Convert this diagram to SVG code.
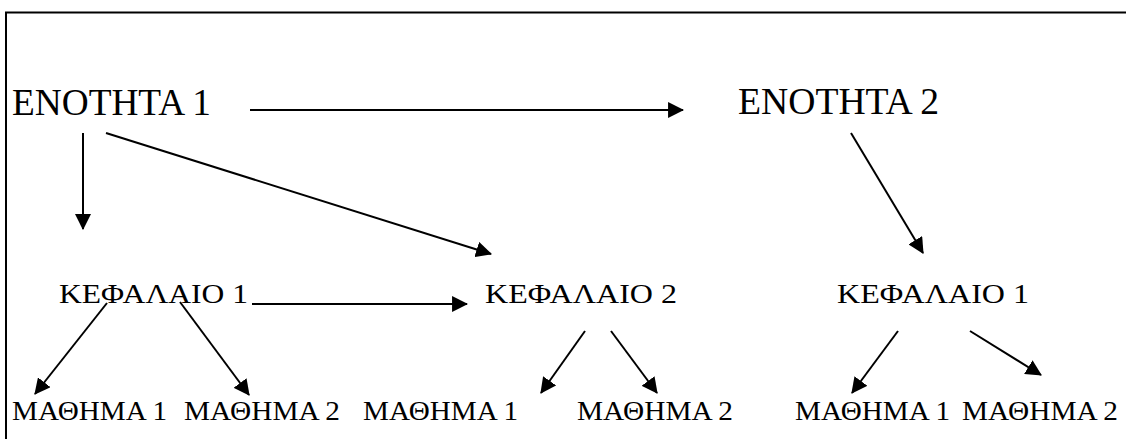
<svg xmlns="http://www.w3.org/2000/svg" width="1126" height="439" viewBox="0 0 1126 439">
<style>
text{font-family:"Liberation Serif","DejaVu Serif","Times New Roman",serif;fill:#000}
.big{font-size:37px}
.mid{font-size:28px}
.sm{font-size:27px}
.c{stroke:#000;stroke-width:2;fill:none;marker-end:url(#ah)}
</style>
<defs>
<marker id="ah" markerUnits="userSpaceOnUse" markerWidth="16" markerHeight="16" refX="14" refY="7.5" orient="auto" viewBox="0 0 15 15">
<path d="M0,0 L15,7.5 L0,15 z" fill="#000"/>
</marker>
</defs>
<rect width="1126" height="439" fill="#fff"/>
<path d="M6,439 V12.5 H1126" stroke="#000" stroke-width="2" fill="none"/>
<g id="connectors">
<line class="c" x1="250" y1="110" x2="683" y2="110"/>
<line class="c" x1="83" y1="133" x2="83" y2="229"/>
<line class="c" x1="106" y1="133" x2="491" y2="254"/>
<line class="c" x1="851" y1="133" x2="923" y2="253"/>
<line class="c" x1="252" y1="304" x2="467" y2="304"/>
<line class="c" x1="107" y1="303" x2="35" y2="394"/>
<line class="c" x1="180" y1="302" x2="249" y2="395"/>
<line class="c" x1="585" y1="331" x2="541" y2="393"/>
<line class="c" x1="611" y1="331" x2="657" y2="393"/>
<line class="c" x1="898" y1="331" x2="852" y2="393"/>
<line class="c" x1="970" y1="331" x2="1041" y2="375"/>
</g>
<g id="enotita1"><text class="big" x="12" y="115" textLength="199" lengthAdjust="spacingAndGlyphs">ΕΝΟΤΗΤΑ 1</text></g>
<g id="enotita2"><text class="big" x="738" y="114" textLength="201" lengthAdjust="spacingAndGlyphs">ΕΝΟΤΗΤΑ 2</text></g>
<g id="kef1a"><text class="mid" x="59" y="303" textLength="189" lengthAdjust="spacingAndGlyphs">ΚΕΦΑΛΑΙΟ 1</text></g>
<g id="kef2"><text class="mid" x="485" y="303" textLength="192" lengthAdjust="spacingAndGlyphs">ΚΕΦΑΛΑΙΟ 2</text></g>
<g id="kef1b"><text class="mid" x="837" y="303" textLength="192" lengthAdjust="spacingAndGlyphs">ΚΕΦΑΛΑΙΟ 1</text></g>
<g id="m1a"><text class="sm" x="12" y="420" textLength="155" lengthAdjust="spacingAndGlyphs">ΜΑΘΗΜΑ 1</text></g>
<g id="m2a"><text class="sm" x="184" y="420" textLength="156" lengthAdjust="spacingAndGlyphs">ΜΑΘΗΜΑ 2</text></g>
<g id="m1b"><text class="sm" x="363" y="420" textLength="155" lengthAdjust="spacingAndGlyphs">ΜΑΘΗΜΑ 1</text></g>
<g id="m2b"><text class="sm" x="577" y="420" textLength="156" lengthAdjust="spacingAndGlyphs">ΜΑΘΗΜΑ 2</text></g>
<g id="m1c"><text class="sm" x="795" y="420" textLength="155" lengthAdjust="spacingAndGlyphs">ΜΑΘΗΜΑ 1</text></g>
<g id="m2c"><text class="sm" x="962" y="420" textLength="156" lengthAdjust="spacingAndGlyphs">ΜΑΘΗΜΑ 2</text></g>
</svg>
